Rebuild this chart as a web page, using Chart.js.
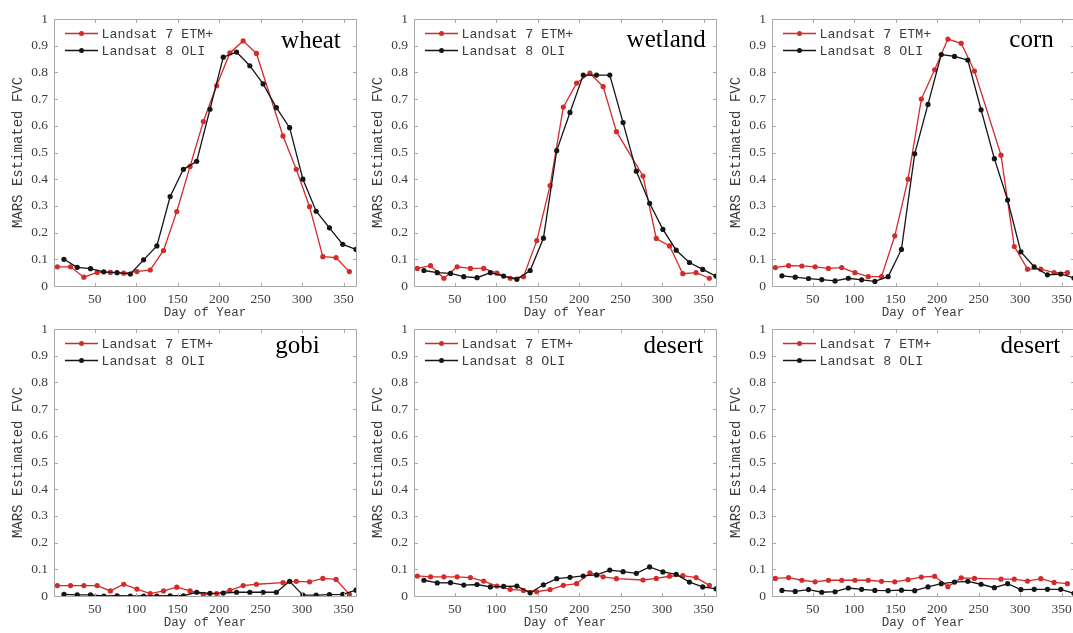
<!DOCTYPE html>
<html>
<head>
<meta charset="utf-8">
<title>MARS Estimated FVC</title>
<script src="https://cdn.jsdelivr.net/npm/chart.js@4.4.1/dist/chart.umd.min.js"></script>
<style>
  html, body { margin: 0; padding: 0; background: #fff; overflow: hidden; width: 1073px; height: 633px; }
  .panel { position: absolute; width: 360px; height: 322px; }
  .panel canvas { display: block; }
</style>
</head>
<body>
<script>
// Acquisition days (day of year) for each sensor
const daysETM = [5, 21, 37, 53, 69, 85, 101, 117, 133, 149, 165, 181, 197, 213, 229, 245, 277, 293, 309, 325, 341, 357];
const daysOLI = [13, 29, 45, 61, 77, 93, 109, 125, 141, 157, 173, 189, 205, 221, 237, 253, 269, 285, 301, 317, 333, 349, 365];

// FVC estimated by MARS, one pair of series per land-cover type
const wheatETM   = [0.072, 0.072, 0.033, 0.051, 0.051, 0.048, 0.054, 0.060, 0.133, 0.279, 0.448, 0.616, 0.750, 0.873, 0.918, 0.871, 0.562, 0.437, 0.297, 0.110, 0.106, 0.054];
const wheatOLI   = [0.100, 0.070, 0.065, 0.053, 0.050, 0.045, 0.098, 0.150, 0.335, 0.437, 0.467, 0.662, 0.857, 0.876, 0.825, 0.757, 0.668, 0.593, 0.400, 0.280, 0.218, 0.156, 0.137];
const wetlandETM = [0.066, 0.076, 0.029, 0.072, 0.066, 0.066, 0.048, 0.029, 0.035, 0.170, 0.376, 0.670, 0.760, 0.797, 0.747, 0.578, 0.412, 0.178, 0.150, 0.046, 0.050, 0.029];
const wetlandOLI = [0.058, 0.050, 0.047, 0.035, 0.031, 0.050, 0.037, 0.025, 0.058, 0.179, 0.507, 0.650, 0.790, 0.790, 0.790, 0.612, 0.430, 0.310, 0.212, 0.134, 0.088, 0.062, 0.037];
const cornETM    = [0.069, 0.076, 0.075, 0.072, 0.066, 0.069, 0.050, 0.035, 0.035, 0.188, 0.400, 0.700, 0.810, 0.925, 0.909, 0.805, 0.490, 0.148, 0.063, 0.063, 0.050, 0.050];
const cornOLI    = [0.038, 0.033, 0.028, 0.024, 0.019, 0.029, 0.023, 0.017, 0.035, 0.137, 0.495, 0.680, 0.867, 0.860, 0.846, 0.660, 0.477, 0.322, 0.128, 0.072, 0.042, 0.045, 0.030];
const gobiETM    = [0.039, 0.039, 0.039, 0.039, 0.019, 0.044, 0.026, 0.009, 0.019, 0.033, 0.019, 0.006, 0.009, 0.021, 0.039, 0.044, 0.050, 0.055, 0.053, 0.066, 0.062, 0.006];
const gobiOLI    = [0.006, 0.004, 0.004, 0.000, 0.001, 0.000, 0.000, 0.000, 0.001, 0.001, 0.014, 0.010, 0.011, 0.014, 0.014, 0.014, 0.014, 0.055, 0.003, 0.003, 0.005, 0.006, 0.022];
const desertAETM = [0.075, 0.072, 0.072, 0.072, 0.069, 0.056, 0.037, 0.025, 0.021, 0.016, 0.024, 0.040, 0.046, 0.087, 0.072, 0.065, 0.060, 0.066, 0.074, 0.076, 0.069, 0.040];
const desertAOLI = [0.059, 0.049, 0.050, 0.041, 0.043, 0.034, 0.036, 0.037, 0.012, 0.042, 0.065, 0.070, 0.075, 0.079, 0.097, 0.091, 0.085, 0.109, 0.090, 0.081, 0.052, 0.034, 0.027];
const desertBETM = [0.066, 0.069, 0.059, 0.053, 0.059, 0.059, 0.059, 0.059, 0.055, 0.053, 0.061, 0.071, 0.074, 0.035, 0.068, 0.066, 0.063, 0.063, 0.056, 0.065, 0.051, 0.046];
const desertBOLI = [0.021, 0.017, 0.024, 0.014, 0.016, 0.030, 0.025, 0.021, 0.020, 0.022, 0.020, 0.034, 0.046, 0.052, 0.055, 0.044, 0.031, 0.046, 0.024, 0.025, 0.025, 0.025, 0.010];

// Axis ticks
const xTickValues = [50, 100, 150, 200, 250, 300, 350];
const yTickValues = [0, 0.1, 0.2, 0.3, 0.4, 0.5, 0.6, 0.7, 0.8, 0.9, 1];
const yTickLabels = ['0', '0.1', '0.2', '0.3', '0.4', '0.5', '0.6', '0.7', '0.8', '0.9', '1'];

const seriesNames = ['Landsat 7 ETM+', 'Landsat 8 OLI'];
const RED = '#d42a2a';
const BLACK = '#151515';

// Panel layout: canvas position, class label and its placement inside the plot
const panels = [
  { left: 0,   top: 0,   label: 'wheat',   etm: wheatETM,   oli: wheatOLI,   lx: 0.752, ly: 29 },
  { left: 360, top: 0,   label: 'wetland', etm: wetlandETM, oli: wetlandOLI, lx: 0.704, ly: 27.5 },
  { left: 718, top: 0,   label: 'corn',    etm: cornETM,    oli: cornOLI,    lx: 0.786, ly: 27.5 },
  { left: 0,   top: 310, label: 'gobi',    etm: gobiETM,    oli: gobiOLI,    lx: 0.733, ly: 24 },
  { left: 360, top: 310, label: 'desert',  etm: desertAETM, oli: desertAOLI, lx: 0.760, ly: 24 },
  { left: 718, top: 310, label: 'desert',  etm: desertBETM, oli: desertBOLI, lx: 0.757, ly: 24 }
];

const W = 360, H = 322;
const FRAME = '#a8a8a8';
const TEXT = '#3c3c3c';
const MONO = '"Liberation Mono", "DejaVu Sans Mono", monospace';
const SERIF = '"Liberation Serif", "DejaVu Serif", serif';

// Box around the plot with inward ticks on all four sides
const framePlugin = {
  id: 'frame',
  afterDatasetsDraw(chart) {
    const { ctx, chartArea: a, scales: { x, y } } = chart;
    const L = Math.round(a.left) + 0.5, R = Math.round(a.right) + 0.5;
    const T = Math.round(a.top) + 0.5, B = Math.round(a.bottom) + 0.5;
    ctx.save();
    ctx.strokeStyle = FRAME;
    ctx.lineWidth = 1;
    ctx.beginPath();
    ctx.rect(L, T, R - L, B - T);
    const len = 3.5;
    x.ticks.forEach(t => {
      const px = Math.round(x.getPixelForValue(t.value)) + 0.5;
      ctx.moveTo(px, B); ctx.lineTo(px, B - len);
      ctx.moveTo(px, T); ctx.lineTo(px, T + len);
    });
    y.ticks.forEach(t => {
      const py = Math.round(y.getPixelForValue(t.value)) + 0.5;
      ctx.moveTo(L, py); ctx.lineTo(L + len, py);
      ctx.moveTo(R, py); ctx.lineTo(R - len, py);
    });
    ctx.stroke();
    ctx.restore();
  }
};

// Two-row legend in the upper-left corner and the class label in the upper right
const annotatePlugin = {
  id: 'annotate',
  afterDraw(chart, args, opts) {
    const { ctx, chartArea: a } = chart;
    ctx.save();
    chart.data.datasets.forEach((ds, i) => {
      const yy = a.top + 14.5 + i * 17;
      const x0 = a.left + 11, x1 = a.left + 44;
      ctx.strokeStyle = ds.borderColor;
      ctx.lineWidth = 1.3;
      ctx.beginPath();
      ctx.moveTo(x0, yy); ctx.lineTo(x1, yy);
      ctx.stroke();
      ctx.fillStyle = ds.borderColor;
      ctx.beginPath();
      ctx.arc((x0 + x1) / 2, yy, 2.5, 0, Math.PI * 2);
      ctx.fill();
      ctx.fillStyle = TEXT;
      ctx.font = '13.3px ' + MONO;
      ctx.textBaseline = 'middle';
      ctx.textAlign = 'left';
      ctx.fillText(ds.label, a.left + 47.5, yy + 0.5);
    });
    ctx.fillStyle = '#000';
    ctx.font = '25px ' + SERIF;
    ctx.textBaseline = 'alphabetic';
    ctx.textAlign = 'left';
    ctx.fillText(opts.text, a.left + opts.fx * (a.right - a.left), a.top + opts.dy);
    ctx.restore();
  }
};

panels.forEach(p => {
  const div = document.createElement('div');
  div.className = 'panel';
  div.style.left = p.left + 'px';
  div.style.top = p.top + 'px';
  const cv = document.createElement('canvas');
  cv.width = W; cv.height = H;
  cv.style.width = W + 'px'; cv.style.height = H + 'px';
  div.appendChild(cv);
  document.body.appendChild(div);

  new Chart(cv, {
    type: 'line',
    data: {
      datasets: [
        {
          label: seriesNames[0],
          data: daysETM.map((d, i) => ({ x: d, y: p.etm[i] })),
          borderColor: RED, backgroundColor: RED,
          pointBackgroundColor: RED, pointBorderWidth: 0, pointRadius: 2.6,
          borderWidth: 1.3, tension: 0, order: 1
        },
        {
          label: seriesNames[1],
          data: daysOLI.map((d, i) => ({ x: d, y: p.oli[i] })),
          borderColor: BLACK, backgroundColor: BLACK,
          pointBackgroundColor: BLACK, pointBorderWidth: 0, pointRadius: 2.6,
          borderWidth: 1.3, tension: 0, order: 0
        }
      ]
    },
    options: {
      responsive: false,
      maintainAspectRatio: false,
      devicePixelRatio: 1,
      animation: false,
      events: [],
      layout: { padding: { top: 19, right: 2, left: 0, bottom: 0 } },
      scales: {
        x: {
          type: 'linear', min: 1, max: 365,
          grid: { display: false, drawTicks: false },
          border: { display: false },
          afterBuildTicks: s => { s.ticks = xTickValues.map(v => ({ value: v })); },
          afterFit: s => { s.height = 36; },
          ticks: {
            autoSkip: false, maxRotation: 0, padding: 5,
            color: TEXT, font: { family: SERIF, size: 13.5 },
            callback: v => String(v)
          },
          title: {
            display: true, text: 'Day of Year', color: TEXT,
            font: { family: MONO, size: 12.5 }, padding: { top: 0, bottom: 1.5 }
          }
        },
        y: {
          min: 0, max: 1,
          grid: { display: false, drawTicks: false },
          border: { display: false },
          afterBuildTicks: s => { s.ticks = yTickValues.map(v => ({ value: v })); },
          afterFit: s => { s.width = 54; },
          ticks: {
            autoSkip: false, padding: 6, color: TEXT, font: { family: SERIF, size: 13.5 },
            callback: (v, i) => yTickLabels[i]
          },
          title: {
            display: true, text: 'MARS Estimated FVC', color: TEXT,
            font: { family: MONO, size: 14 }, padding: { top: 10, bottom: 0 }
          }
        }
      },
      plugins: {
        legend: { display: false },
        tooltip: { enabled: false },
        annotate: { text: p.label, fx: p.lx, dy: p.ly }
      }
    },
    plugins: [framePlugin, annotatePlugin]
  });
});
</script>
</body>
</html>
